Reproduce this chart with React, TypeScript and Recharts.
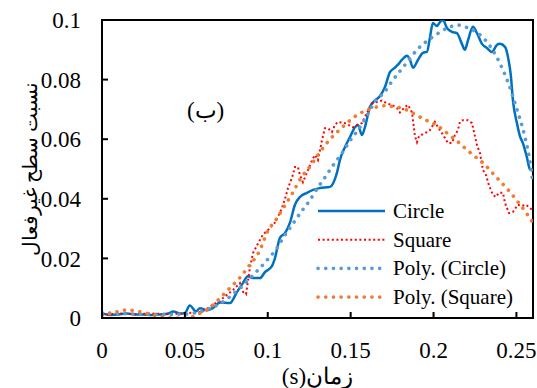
import { Legend, Line, LineChart, ReferenceArea, XAxis, YAxis } from "recharts";

document.body.style.margin = "0";

const FONT = "Liberation Serif, Times New Roman, serif";

// [time (s), inactive surface ratio]
const circle: [number, number][] = [
  [0, 0.0015], [0.005, 0.001], [0.01, 0.0012], [0.015, 0.0015], [0.02, 0.0012], [0.025, 0.0012],
  [0.03, 0.001], [0.035, 0.0012], [0.04, 0.0015], [0.043, 0.0022], [0.047, 0.0015], [0.05, 0.0017],
  [0.053, 0.0042], [0.0567, 0.0022], [0.0591, 0.0033], [0.0633, 0.0026], [0.067, 0.0034],
  [0.0712, 0.0052], [0.0772, 0.005], [0.0814, 0.0087], [0.085, 0.0117], [0.088, 0.014],
  [0.0911, 0.0134], [0.0953, 0.0134], [0.0983, 0.0154], [0.1025, 0.0174], [0.1043, 0.02],
  [0.1074, 0.027], [0.1104, 0.0285], [0.1134, 0.032], [0.1164, 0.038], [0.1194, 0.0406],
  [0.1236, 0.042], [0.1273, 0.043], [0.1315, 0.0436], [0.1375, 0.044], [0.1417, 0.0487],
  [0.1435, 0.053], [0.1466, 0.0574], [0.1496, 0.0607], [0.1526, 0.064], [0.1544, 0.0648],
  [0.1568, 0.0614], [0.1586, 0.064], [0.1616, 0.0708], [0.1647, 0.073], [0.1677, 0.0745],
  [0.1707, 0.0775], [0.1737, 0.0825], [0.1767, 0.084], [0.1785, 0.085], [0.1809, 0.0866],
  [0.184, 0.088], [0.1858, 0.0866], [0.1876, 0.084], [0.1906, 0.0866], [0.1936, 0.089],
  [0.196, 0.0893], [0.1978, 0.094], [0.1996, 0.099], [0.202, 0.098], [0.2039, 0.0993],
  [0.2057, 0.1], [0.2081, 0.0973], [0.2111, 0.096], [0.2141, 0.0956], [0.2171, 0.092],
  [0.2189, 0.09], [0.2207, 0.093], [0.2238, 0.0977], [0.2262, 0.0956], [0.2292, 0.092],
  [0.2322, 0.0906], [0.2352, 0.0893], [0.2382, 0.0916], [0.24, 0.092], [0.2431, 0.091],
  [0.2449, 0.0876], [0.2467, 0.081], [0.2479, 0.073], [0.2503, 0.0654], [0.2521, 0.061],
  [0.2539, 0.0587], [0.2563, 0.054], [0.2581, 0.05], [0.26, 0.0495],
];

const square: [number, number][] = [
  [0, 0.001], [0.005, 0.0013], [0.01, 0.0015], [0.02, 0.0013], [0.03, 0.0015], [0.04, 0.0013],
  [0.05, 0.0015], [0.055, 0.0018], [0.06, 0.002], [0.067, 0.0044], [0.073, 0.0067],
  [0.079, 0.0094], [0.0832, 0.0117], [0.085, 0.0088], [0.0869, 0.008], [0.0893, 0.0171],
  [0.0911, 0.0218], [0.0941, 0.025], [0.0971, 0.028], [0.1001, 0.0295], [0.1043, 0.032],
  [0.1062, 0.034], [0.1086, 0.037], [0.1104, 0.04], [0.1122, 0.0436], [0.1146, 0.047],
  [0.1164, 0.0507], [0.1182, 0.0507], [0.1194, 0.048], [0.1212, 0.0456], [0.1236, 0.0487],
  [0.1267, 0.053], [0.1285, 0.0547], [0.1303, 0.053], [0.1327, 0.0597], [0.1345, 0.0637],
  [0.1363, 0.0637], [0.1387, 0.0624], [0.1405, 0.0648], [0.1423, 0.0658], [0.1466, 0.0654],
  [0.1514, 0.064], [0.1538, 0.0648], [0.1568, 0.0654], [0.1598, 0.0688], [0.1628, 0.072],
  [0.1659, 0.0725], [0.1689, 0.073], [0.1719, 0.072], [0.1749, 0.0715], [0.1779, 0.0705],
  [0.1797, 0.069], [0.1827, 0.0708], [0.1846, 0.0715], [0.187, 0.069], [0.1876, 0.0664],
  [0.1882, 0.0637], [0.1888, 0.061], [0.19, 0.059], [0.1912, 0.061], [0.1936, 0.0617],
  [0.196, 0.0624], [0.1978, 0.063], [0.2008, 0.0658], [0.2027, 0.064], [0.2051, 0.062],
  [0.2069, 0.0604], [0.2087, 0.0587], [0.2111, 0.0587], [0.2129, 0.0614], [0.2147, 0.063],
  [0.2159, 0.0658], [0.2177, 0.0664], [0.2207, 0.0664], [0.2232, 0.0654], [0.2244, 0.0624],
  [0.2262, 0.058], [0.228, 0.0554], [0.2298, 0.0497], [0.2316, 0.048], [0.2334, 0.0446],
  [0.2358, 0.0413], [0.2376, 0.0406], [0.2394, 0.042], [0.2419, 0.042], [0.2431, 0.0386],
  [0.2455, 0.0352], [0.2479, 0.0356], [0.2509, 0.038], [0.2533, 0.0376], [0.2557, 0.038],
  [0.2581, 0.037], [0.26, 0.036],
];

const polyCircle: [number, number][] = [
  [0, 0.0018], [0.01, 0.0015], [0.02, 0.0013], [0.03, 0.0012], [0.04, 0.0012], [0.05, 0.0013],
  [0.055, 0.0016], [0.06, 0.0022], [0.065, 0.0032], [0.07, 0.0045], [0.075, 0.0062],
  [0.08, 0.0085], [0.085, 0.011], [0.09, 0.0138], [0.095, 0.0166], [0.1, 0.0197],
  [0.105, 0.023], [0.11, 0.0275], [0.115, 0.0315], [0.12, 0.0355], [0.125, 0.0392],
  [0.13, 0.0436], [0.135, 0.0476], [0.14, 0.0517], [0.145, 0.0555], [0.15, 0.0598],
  [0.155, 0.0635], [0.16, 0.068], [0.165, 0.073], [0.17, 0.0755], [0.175, 0.0795],
  [0.18, 0.083], [0.185, 0.0865], [0.19, 0.09], [0.195, 0.0925], [0.2, 0.0945],
  [0.205, 0.0963], [0.21, 0.0977], [0.215, 0.0983], [0.22, 0.0975], [0.225, 0.0962],
  [0.23, 0.094], [0.235, 0.0905], [0.24, 0.0855], [0.245, 0.079], [0.25, 0.0705],
  [0.255, 0.061], [0.258, 0.053], [0.26, 0.045],
];

const polySquare: [number, number][] = [
  [0, 0.0008], [0.007, 0.0018], [0.015, 0.0027], [0.025, 0.0018], [0.035, 0.0004],
  [0.043, 0], [0.052, 0], [0.058, 0.0013], [0.064, 0.003], [0.07, 0.006], [0.077, 0.01],
  [0.083, 0.0134], [0.088, 0.017], [0.095, 0.0225], [0.1, 0.0292], [0.105, 0.033],
  [0.11, 0.0375], [0.115, 0.042], [0.12, 0.047], [0.125, 0.0505], [0.13, 0.0545],
  [0.135, 0.0583], [0.14, 0.0614], [0.145, 0.064], [0.15, 0.0665], [0.155, 0.0685],
  [0.16, 0.0698], [0.165, 0.0707], [0.17, 0.0712], [0.175, 0.071], [0.18, 0.0705],
  [0.185, 0.0695], [0.19, 0.068], [0.195, 0.0665], [0.2, 0.0652], [0.205, 0.0635],
  [0.21, 0.0612], [0.215, 0.059], [0.22, 0.0565], [0.225, 0.0542], [0.23, 0.052],
  [0.235, 0.049], [0.24, 0.046], [0.245, 0.043], [0.25, 0.0396], [0.255, 0.036], [0.26, 0.032],
];

const xTicks = [0, 0.05, 0.1, 0.15, 0.2, 0.25];
const yTicks = [0, 0.02, 0.04, 0.06, 0.08, 0.1];

const series = [
  { name: "Circle", points: circle, color: "#0070C0", width: 2.5, dash: undefined, cap: "butt", curve: "monotone" },
  { name: "Square", points: square, color: "#FF0000", width: 2, dash: "2 2.6", cap: "butt", curve: "linear" },
  { name: "Poly. (Circle)", points: polyCircle, color: "#5B9BD5", width: 3.6, dash: "0.1 7.6", cap: "round", curve: "monotone" },
  { name: "Poly. (Square)", points: polySquare, color: "#ED7D31", width: 3.6, dash: "0.1 7.6", cap: "round", curve: "monotone" },
] as const;

const toRows = (points: readonly (readonly [number, number])[]) => points.map(([t, v]) => ({ t, v }));

function LegendBox() {
  return (
    <svg width={225} height={120} style={{ fontFamily: FONT }}>
      {series.map((s, i) => {
        const y = 16 + i * 28.7;
        return (
          <g key={s.name}>
            <line
              x1={8}
              x2={75}
              y1={y}
              y2={y}
              stroke={s.color}
              strokeWidth={s.width}
              strokeDasharray={s.dash}
              strokeLinecap={s.cap}
            />
            <text x={83} y={y} dominantBaseline="central" style={{ fontFamily: FONT }} fontSize={21} fill="#000">
              {s.name}
            </text>
          </g>
        );
      })}
    </svg>
  );
}

export default function App() {
  return (
    <div style={{ fontFamily: FONT }}>
      <LineChart
        width={537}
        height={388}
        margin={{ top: 20, right: 4, left: 0, bottom: 0 }}
        style={{ fontFamily: FONT }}
      >
        <XAxis
          dataKey="t"
          type="number"
          domain={[0, 0.26]}
          ticks={xTicks}
          allowDataOverflow
          height={70}
          axisLine={{ stroke: "#000", strokeWidth: 2 }}
          tickLine={{ stroke: "#000", strokeWidth: 2 }}
          tickSize={-6}
          tickMargin={30}
          tick={{ fill: "#000", fontSize: 23, style: { fontFamily: FONT } }}
          label={{
            content: ({ viewBox }: any) => (
              <text
                x={viewBox.x + viewBox.width / 2}
                y={viewBox.y + 58}
                textAnchor="middle"
                dominantBaseline="central"
                direction="rtl"
                style={{ fontFamily: FONT }}
                fontSize={23}
                fill="#000"
              >
                زمان(s)
              </text>
            ),
          }}
        />
        <YAxis
          dataKey="v"
          type="number"
          domain={[0, 0.1]}
          ticks={yTicks}
          allowDataOverflow
          width={102}
          axisLine={{ stroke: "#000", strokeWidth: 2 }}
          tickLine={{ stroke: "#000", strokeWidth: 2 }}
          tickSize={-6}
          tickMargin={27}
          tick={{ fill: "#000", fontSize: 23, style: { fontFamily: FONT } }}
          label={{
            content: ({ viewBox }: any) => {
              const cx = 30;
              const cy = viewBox.y + viewBox.height / 2;
              return (
                <text
                  x={cx}
                  y={cy}
                  transform={`rotate(-90 ${cx} ${cy})`}
                  textAnchor="middle"
                  dominantBaseline="central"
                  direction="rtl"
                  style={{ fontFamily: FONT }}
                  fontSize={20}
                  fill="#000"
                >
                  نسبت سطح غیرفعال
                </text>
              );
            },
          }}
        />
        <ReferenceArea x1={0} x2={0.26} y1={0} y2={0.1} fill="none" stroke="#000" strokeWidth={2} />
        <ReferenceArea
          x1={0.05}
          x2={0.075}
          y1={0.066}
          y2={0.074}
          fill="none"
          stroke="none"
          label={{ value: "(ب)", position: "center", fill: "#000", fontSize: 23, style: { fontFamily: FONT } }}
        />
        {series.map((s) => (
          <Line
            key={s.name}
            data={toRows(s.points)}
            dataKey="v"
            name={s.name}
            type={s.curve}
            stroke={s.color}
            strokeWidth={s.width}
            strokeDasharray={s.dash}
            strokeLinecap={s.cap}
            dot={false}
            activeDot={false}
            isAnimationActive={false}
          />
        ))}
        <Legend
          layout="vertical"
          align="center"
          verticalAlign="middle"
          content={() => <LegendBox />}
          wrapperStyle={{ position: "absolute", left: 310, top: 195, width: 225, height: 120 }}
        />
      </LineChart>
    </div>
  );
}
